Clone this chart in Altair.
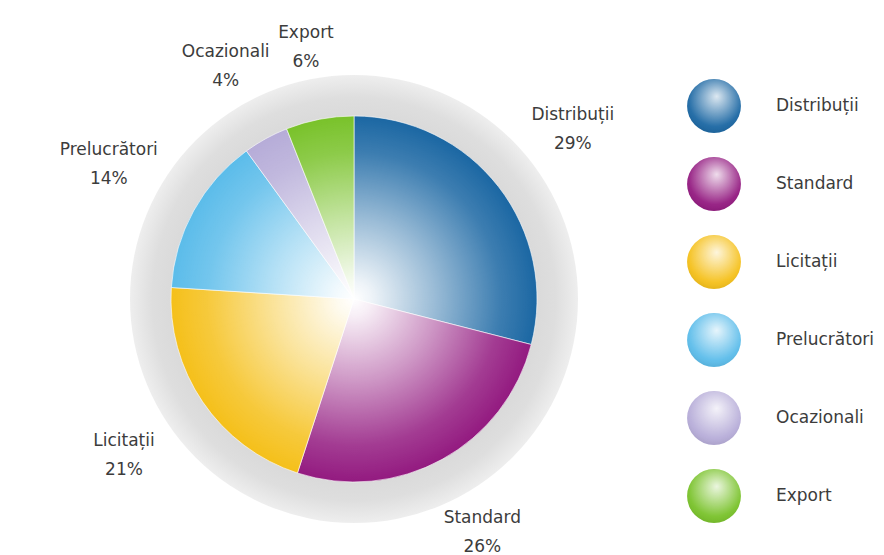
import math
import altair as alt
import pandas as pd

# ---- data ----
categories = ["Distribuții", "Standard", "Licitații", "Prelucrători", "Ocazionali", "Export"]
shares = [29, 26, 21, 14, 4, 6]
colors = ["#1b67a3", "#931a80", "#f5c01a", "#5bbcea", "#b6acd8", "#79c22a"]

df = pd.DataFrame({"cat": categories, "val": shares, "idx": list(range(len(categories)))})
df["label"] = [f"{c}\n{v}%" for c, v in zip(categories, shares)]
one = pd.DataFrame({"k": [0]})

CX, CY = 354, 299
R_PIE, R_RING = 183, 224
FONT = "DejaVu Sans"
TXT = "#3c3c3c"
FS = 17

color_scale = alt.Scale(domain=categories, range=colors)
ypos = alt.Y("cat:N", scale=alt.Scale(type="point", domain=categories, range=[106, 496], padding=0), axis=None)

ring_grad = alt.RadialGradient(
    gradient="radial", x1=0.5, y1=0.5, r1=0, x2=0.5, y2=0.5, r2=0.5,
    stops=[
        alt.GradientStop(color="#d8d8d8", offset=0.78),
        alt.GradientStop(color="#dedede", offset=0.9),
        alt.GradientStop(color="#eeeeee", offset=1.0),
    ],
)
shine_grad = alt.RadialGradient(
    gradient="radial", x1=0.5, y1=0.5, r1=0, x2=0.5, y2=0.5, r2=0.5,
    stops=[
        alt.GradientStop(color="rgba(255,255,255,1)", offset=0.0),
        alt.GradientStop(color="rgba(255,255,255,0.92)", offset=0.1),
        alt.GradientStop(color="rgba(255,255,255,0.55)", offset=0.45),
        alt.GradientStop(color="rgba(255,255,255,0.15)", offset=0.8),
        alt.GradientStop(color="rgba(255,255,255,0)", offset=1.0),
    ],
)
sphere_grad = alt.RadialGradient(
    gradient="radial", x1=0.55, y1=0.32, r1=0, x2=0.52, y2=0.4, r2=0.62,
    stops=[
        alt.GradientStop(color="rgba(255,255,255,0.85)", offset=0.0),
        alt.GradientStop(color="rgba(255,255,255,0.45)", offset=0.4),
        alt.GradientStop(color="rgba(255,255,255,0.05)", offset=0.8),
        alt.GradientStop(color="rgba(0,0,0,0.08)", offset=1.0),
    ],
)

ring = alt.Chart(one).mark_arc(theta=0, theta2=2 * math.pi, radius=R_RING, fill=ring_grad).encode(
    x=alt.value(CX), y=alt.value(CY)
)

slices = alt.Chart(df).mark_arc(radius=R_PIE, stroke="white", strokeWidth=0.6).encode(
    theta=alt.Theta("val:Q", stack=True),
    order=alt.Order("idx:Q"),
    color=alt.Color("cat:N", scale=color_scale, legend=None),
    x=alt.value(CX), y=alt.value(CY),
)

shine = alt.Chart(one).mark_arc(theta=0, theta2=2 * math.pi, radius=R_PIE, fill=shine_grad).encode(
    x=alt.value(CX), y=alt.value(CY)
)

labels = alt.Chart(df).transform_joinaggregate(
    total="sum(val)"
).transform_window(
    cum="sum(val)", sort=[alt.SortField("idx")], frame=[None, 0]
).transform_calculate(
    mid="(datum.cum - datum.val / 2) / datum.total * 2 * PI"
).transform_calculate(
    lr="250 + 34 * abs(sin(datum.mid))"
).mark_text(
    align="center", baseline="middle", lineBreak="\n", lineHeight=29, dy=-14,
    font=FONT, fontSize=FS, color=TXT,
).encode(
    theta=alt.Theta("mid:Q", scale=None),
    radius=alt.Radius("lr:Q", scale=None),
    text="label:N",
    x=alt.value(CX), y=alt.value(CY),
)

leg_dots = alt.Chart(df).mark_circle(size=2900, opacity=1).encode(
    x=alt.value(714), y=ypos, color=alt.Color("cat:N", scale=color_scale, legend=None)
)
leg_shine = alt.Chart(df).mark_circle(size=2900, opacity=1, fill=sphere_grad).encode(
    x=alt.value(714), y=ypos
)
leg_text = alt.Chart(df).mark_text(align="left", baseline="middle", font=FONT, fontSize=FS, color=TXT).encode(
    x=alt.value(776), y=ypos, text="cat:N"
)

chart = alt.layer(ring, slices, shine, labels, leg_dots, leg_shine, leg_text).resolve_scale(
    theta="independent", radius="independent"
).properties(
    width=884, height=555, autosize=alt.AutoSizeParams(type="none"), padding=0, background="white"
).configure_view(stroke=None)

chart.save("out.html", embed_options={"renderer": "svg", "actions": False})
